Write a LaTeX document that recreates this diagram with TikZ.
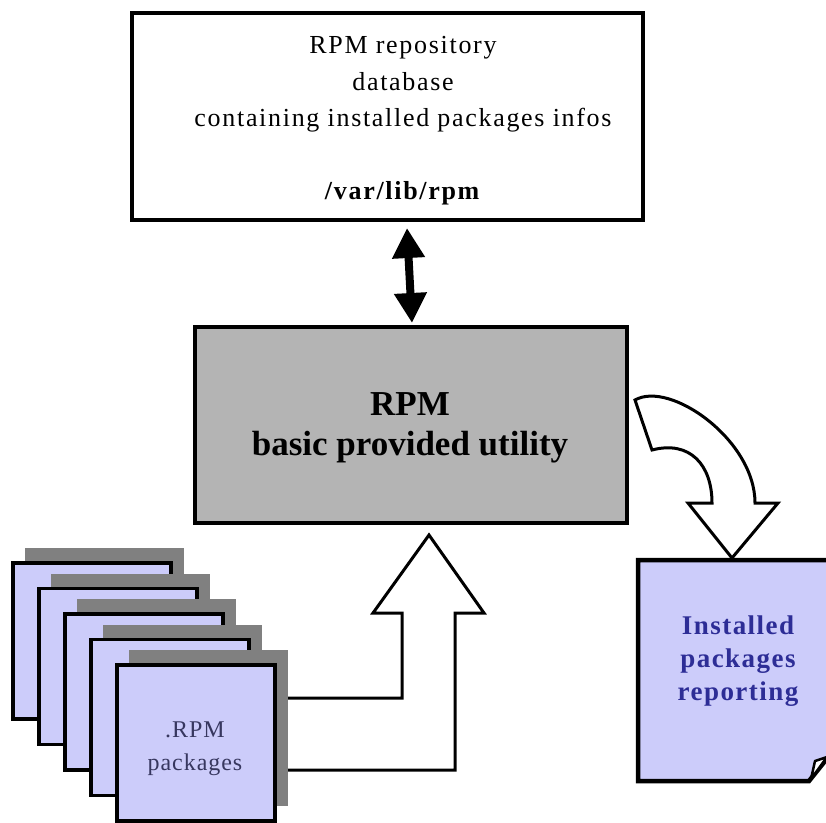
\documentclass[tikz,border=0pt]{standalone}
\usepackage{fontspec}
\setmainfont{Liberation Serif}
\usetikzlibrary{arrows.meta,calc}
\definecolor{pkgfill}{RGB}{204,204,250}
\definecolor{utilfill}{RGB}{180,180,180}
\definecolor{pkgtext}{RGB}{55,55,95}
\definecolor{reptext}{RGB}{45,45,150}
\definecolor{shade}{RGB}{128,128,128}
\begin{document}
\begin{tikzpicture}[x=1pt,y=-1pt,
  box/.style={draw=black,line width=4.5pt,rectangle,inner sep=0pt},
  pkgbox/.style={draw=black,line width=3.5pt,fill=pkgfill},
  pkgshadow/.style={fill=shade},
  hollow/.style={draw=black,line width=3pt,fill=white,line join=miter},
  dblarrow/.style={line width=8pt,{Triangle[width=31pt,length=30pt]}-{Triangle[width=31pt,length=30pt]}}
]
\useasboundingbox (0,0) rectangle (826,822);

% repository database
\node[box,fill=white,minimum width=511pt,minimum height=207pt] (repo) at (387.5,116.5) {};
\node[align=center,font=\fontsize{26}{36.5}\selectfont\addfontfeature{LetterSpace=6.5}] (repotext) at (403,121)
  {RPM repository\\database\\containing installed packages infos\\[36.5pt]\textbf{/var/lib/rpm}};

% rpm utility
\node[box,fill=utilfill,minimum width=432pt,minimum height=196pt] (util) at (411,425) {};
\node[align=center,font=\bfseries\fontsize{35}{40}\selectfont] (utiltext) at (410,428)
  {RPM\\basic provided utility};

% two-way link between database and utility
\coordinate (dbtop) at (407,228);
\coordinate (dbbot) at (412,323);
\draw[dblarrow] (dbtop) -- (dbbot);

% hollow arrow from the package stack up to the utility
\coordinate (upa) at (284,698);
\coordinate (upb) at (402,698);
\coordinate (upc) at (402,613);
\coordinate (upd) at (373,613);
\coordinate (uptip) at (429,535);
\coordinate (upe) at (484,613);
\coordinate (upf) at (455,613);
\coordinate (upg) at (455,770);
\coordinate (uph) at (284,770);
\draw[hollow] (upa) -- (upb) -- (upc) -- (upd) -- (uptip) -- (upe) -- (upf) -- (upg) -- (uph) -- cycle;

% stack of package files
\foreach \i in {0,...,4}{
  \pgfmathsetmacro{\px}{13+26*\i}
  \pgfmathsetmacro{\py}{563+25.5*\i}
  \fill[pkgshadow] (\px+12,\py-15) rectangle ++(159,156);
  \draw[pkgbox] (\px,\py) rectangle ++(158,156);
}
\node[align=center,text=pkgtext,font=\fontsize{24}{33}\selectfont\addfontfeature{LetterSpace=4}] (pkgs) at (195,749) {.RPM\\packages};

% curved hollow arrow from utility to report
\coordinate (ca) at (635,400);
\coordinate (cb) at (652,450);
\coordinate (cc) at (712,503);
\coordinate (cd) at (688,503);
\coordinate (ctip) at (732,558);
\coordinate (ce) at (778,503);
\coordinate (cf) at (755,503);
\draw[hollow] (ca) -- (cb) .. controls (690,440) and (712,465) .. (cc) -- (cd) -- (ctip) -- (ce) -- (cf)
  .. controls (755,440) and (670,380) .. (ca) -- cycle;

% report page with folded corner
\coordinate (ra) at (638,560);
\coordinate (rb) at (829,560);
\coordinate (rc) at (829,756);
\coordinate (rd) at (809,781);
\coordinate (re) at (638,781);
\draw[pkgbox,line width=4.5pt,line join=miter] (ra) -- (rb) -- (rc) -- (rd) -- (re) -- cycle;
\coordinate (fa) at (811,779);
\coordinate (fb) at (815,761);
\coordinate (fc) at (827,757);
\draw[line width=2.5pt,fill=white,line join=round] (fa) -- (fb) -- (fc) -- cycle;
\node[align=center,text=reptext,font=\bfseries\fontsize{27}{33}\selectfont\addfontfeature{LetterSpace=5.5}] (reptxt) at (738,661)
  {Installed\\packages\\reporting};
\end{tikzpicture}
\end{document}
